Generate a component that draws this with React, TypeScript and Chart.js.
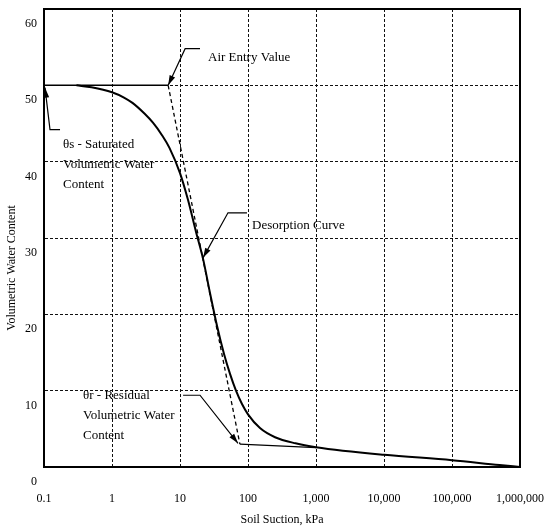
import React, { useEffect, useRef } from "react";
import { Chart, registerables } from "chart.js";

Chart.register(...registerables);

// Desorption (soil-water characteristic) curve
const curveSuction = [0.3, 0.5, 1, 1.5, 2, 3, 4, 5.5, 7, 10, 13.1, 17.2, 21.8, 27.6, 35, 44.4, 54.4, 66.6, 81.6, 100, 150, 250, 500, 1000, 10000, 100000, 500000, 1000000];
const curveTheta = [50.0, 49.75, 49.1, 48.4, 47.7, 46.3, 45.1, 43.4, 41.8, 38.5, 35.0, 30.8, 27.3, 22.8, 18.5, 14.8, 12.2, 10.0, 8.25, 6.9, 5.1, 3.9, 3.1, 2.6, 1.6, 0.9, 0.25, 0];

// Saturated water content line
const satSuction = [0.1, 6.7];
const satTheta = [50, 50];

// Air-entry tangent (dashed)
const aevSuction = [6.7, 76];
const aevTheta = [50, 3.0];

// Residual line
const resSuction = [76, 1000];
const resTheta = [3.0, 2.55];

const xTickValues = [0.1, 1, 10, 100, 1000, 10000, 100000, 1000000];
const xTickLabels = ["0.1", "1", "10", "100", "1,000", "10,000", "100,000", "1,000,000"];
const yTickValues = [0, 10, 20, 30, 40, 50, 60];

const xTitle = "Soil Suction, kPa";
const yTitle = "Volumetric Water Content";

const notes = [
  { lines: ["Air Entry Value"], at: [25.8, 53.6], leader: [[19.7, 54.8], [11.9, 54.8], [6.7, 50.0]] },
  { lines: ["θs - Saturated", "Volumetric Water", "Content"], at: [0.19, 42.2], leader: [[0.172, 44.2], [0.1225, 44.2], [0.1034, 49.7]] },
  { lines: ["Desorption Curve"], at: [114.5, 31.6], leader: [[96.6, 33.3], [50.8, 33.3], [21.8, 27.4]] },
  { lines: ["θr - Residual", "Volumetric Water", "Content"], at: [0.375, 9.4], leader: [[11.1, 9.4], [19.7, 9.4], [71.3, 3.1]] },
];

const FONT = '"Liberation Serif", "Times New Roman", serif';

const toPoints = (xs: number[], ys: number[]) => xs.map((v, i) => ({ x: v, y: ys[i] }));

const notesPlugin = {
  id: "notes",
  afterDatasetsDraw(chart: any) {
    const { ctx, chartArea, scales } = chart;
    const xs = scales.x;
    const ys = scales.y;
    ctx.save();
    // frame
    ctx.strokeStyle = "#000";
    ctx.lineWidth = 2;
    ctx.strokeRect(chartArea.left, chartArea.top, chartArea.right - chartArea.left, chartArea.bottom - chartArea.top);

    ctx.font = `13px ${FONT}`;
    ctx.fillStyle = "#000";
    ctx.textBaseline = "middle";
    ctx.textAlign = "left";
    for (const n of notes) {
      const px = xs.getPixelForValue(n.at[0]);
      const py = ys.getPixelForValue(n.at[1]);
      n.lines.forEach((t, i) => ctx.fillText(t, px, py + i * 20));
      const pts = n.leader.map((p) => ({ x: xs.getPixelForValue(p[0]), y: ys.getPixelForValue(p[1]) }));
      ctx.lineWidth = 1.2;
      ctx.beginPath();
      pts.forEach((p, i) => (i === 0 ? ctx.moveTo(p.x, p.y) : ctx.lineTo(p.x, p.y)));
      ctx.stroke();
      const a = pts[pts.length - 2];
      const b = pts[pts.length - 1];
      const ang = Math.atan2(b.y - a.y, b.x - a.x);
      const L = 10;
      const W = 3;
      ctx.beginPath();
      ctx.moveTo(b.x, b.y);
      ctx.lineTo(b.x - L * Math.cos(ang) + W * Math.sin(ang), b.y - L * Math.sin(ang) - W * Math.cos(ang));
      ctx.lineTo(b.x - L * Math.cos(ang) - W * Math.sin(ang), b.y - L * Math.sin(ang) + W * Math.cos(ang));
      ctx.closePath();
      ctx.fill();
    }

    // y axis title
    ctx.font = `12px ${FONT}`;
    ctx.translate(12, (chartArea.top + chartArea.bottom) / 2 + 30);
    ctx.rotate(-Math.PI / 2);
    ctx.textAlign = "center";
    ctx.fillText(yTitle, 0, 0);
    ctx.restore();
  },
};

export default function App() {
  const canvasRef = useRef<HTMLCanvasElement | null>(null);

  useEffect(() => {
    if (!canvasRef.current) return;
    const chart = new Chart(canvasRef.current, {
      type: "line",
      data: {
        datasets: [
          {
            label: "Desorption Curve",
            data: toPoints(curveSuction, curveTheta),
            borderColor: "#000",
            borderWidth: 2,
            pointRadius: 0,
            cubicInterpolationMode: "monotone",
            fill: false,
          },
          {
            label: "Saturated",
            data: toPoints(satSuction, satTheta),
            borderColor: "#000",
            borderWidth: 1.5,
            pointRadius: 0,
            fill: false,
          },
          {
            label: "Air Entry",
            data: toPoints(aevSuction, aevTheta),
            borderColor: "#000",
            borderWidth: 1.3,
            borderDash: [4, 3],
            pointRadius: 0,
            fill: false,
          },
          {
            label: "Residual",
            data: toPoints(resSuction, resTheta),
            borderColor: "#000",
            borderWidth: 1.2,
            pointRadius: 0,
            fill: false,
          },
        ],
      },
      options: {
        animation: false,
        responsive: true,
        maintainAspectRatio: false,
        layout: { padding: { left: 0, top: 9, right: 30, bottom: 0 } },
        plugins: { legend: { display: false }, tooltip: { enabled: false } },
        scales: {
          x: {
            type: "logarithmic",
            min: 0.1,
            max: 1000000,
            afterBuildTicks: (scale: any) => {
              scale.ticks = xTickValues.map((v) => ({ value: v }));
            },
            afterFit: (scale: any) => {
              scale.height = 62;
              scale.paddingLeft = 0;
              scale.paddingRight = 0;
            },
            ticks: {
              autoSkip: false,
              maxRotation: 0,
              padding: 25,
              color: "#000",
              font: { family: FONT, size: 12 },
              callback: (v: any) => {
                const i = xTickValues.findIndex((t) => Math.abs(t - Number(v)) / t < 1e-6);
                return i >= 0 ? xTickLabels[i] : "";
              },
            },
            grid: { color: "#111", lineWidth: 1, drawTicks: false },
            border: { display: true, color: "#000", width: 2, dash: [3, 2] },
            title: {
              display: true,
              text: xTitle,
              color: "#000",
              font: { family: FONT, size: 12 },
              padding: { top: 0, bottom: 2 },
            },
          },
          y: {
            type: "linear",
            min: 0,
            max: 60,
            afterBuildTicks: (scale: any) => {
              scale.ticks = yTickValues.map((v) => ({ value: v }));
            },
            afterFit: (scale: any) => {
              scale.width = 44;
              scale.paddingTop = 0;
              scale.paddingBottom = 0;
            },
            ticks: {
              padding: 7,
              labelOffset: 15,
              color: "#000",
              font: { family: FONT, size: 12 },
            },
            grid: { color: "#111", lineWidth: 1, drawTicks: false },
            border: { display: true, color: "#000", width: 2, dash: [3, 2] },
          },
        },
      },
      plugins: [notesPlugin],
    } as any);
    return () => chart.destroy();
  }, []);

  return (
    <div style={{ position: "absolute", left: 0, top: 0, width: 550, height: 529, background: "#fff" }}>
      <canvas ref={canvasRef} />
    </div>
  );
}
